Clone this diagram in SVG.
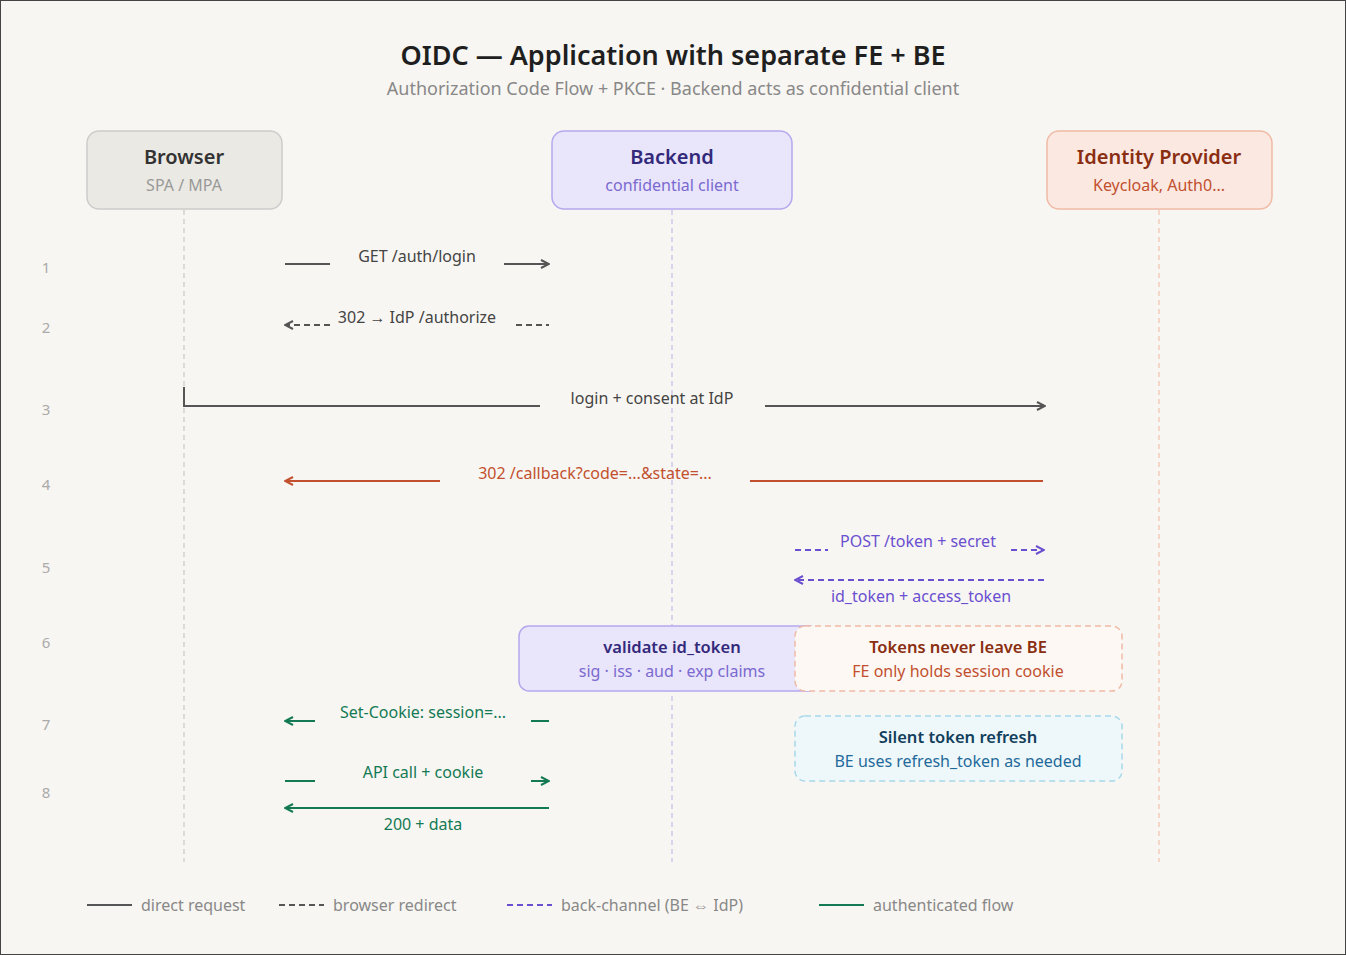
<svg xmlns="http://www.w3.org/2000/svg" width="1346" height="955" viewBox="0 0 1346 955">
<defs>
<style>
text{font-family:"Noto Sans","Open Sans",sans-serif}
.t{font-size:16px;text-anchor:middle}
.n{font-size:15px;fill:#aaa;text-anchor:middle}
.life{stroke-width:1.3;stroke-dasharray:5 4;fill:none}
.d{stroke:#555;stroke-width:2;fill:none}
.r{stroke:#555;stroke-width:2;stroke-dasharray:6 4;fill:none}
.b{stroke:#6a4fd0;stroke-width:2;stroke-dasharray:6 4;fill:none}
.o{stroke:#c2502f;stroke-width:2;fill:none}
.g{stroke:#137a55;stroke-width:2;fill:none}
</style>
<marker id="ad" viewBox="0 0 10 10" refX="9" refY="5" markerWidth="10" markerHeight="10" markerUnits="userSpaceOnUse" orient="auto-start-reverse"><path d="M1 1L9 5L1 9" fill="none" stroke="#555" stroke-width="2"/></marker>
<marker id="ab" viewBox="0 0 10 10" refX="9" refY="5" markerWidth="10" markerHeight="10" markerUnits="userSpaceOnUse" orient="auto-start-reverse"><path d="M1 1L9 5L1 9" fill="none" stroke="#6a4fd0" stroke-width="2"/></marker>
<marker id="ao" viewBox="0 0 10 10" refX="9" refY="5" markerWidth="10" markerHeight="10" markerUnits="userSpaceOnUse" orient="auto-start-reverse"><path d="M1 1L9 5L1 9" fill="none" stroke="#c2502f" stroke-width="2"/></marker>
<marker id="ag" viewBox="0 0 10 10" refX="9" refY="5" markerWidth="10" markerHeight="10" markerUnits="userSpaceOnUse" orient="auto-start-reverse"><path d="M1 1L9 5L1 9" fill="none" stroke="#137a55" stroke-width="2"/></marker>
</defs>
<rect x="0.5" y="0.5" width="1345" height="954" fill="#f8f6f2" stroke="#444"/>
<text x="673" y="65" font-size="27" font-weight="600" text-anchor="middle" fill="#1f1f1f">OIDC — Application with separate FE + BE</text>
<text x="673" y="95" font-size="18" text-anchor="middle" fill="#888">Authorization Code Flow + PKCE · Backend acts as confidential client</text>

<g id="lifelines">
<line x1="184" y1="210" x2="184" y2="862" class="life" stroke="#ccc"/>
<line x1="672" y1="210" x2="672" y2="862" class="life" stroke="#c8c0ec"/>
<line x1="1159" y1="210" x2="1159" y2="862" class="life" stroke="#f0c6b0"/>
</g>
<g id="browser"><rect x="87" y="131" width="195" height="78" rx="12" fill="#ebe9e3" stroke="#ccc" stroke-width="1.5"/>
<text x="184" y="164" font-size="20" font-weight="600" text-anchor="middle" fill="#333">Browser</text>
<text x="184" y="191" font-size="16" text-anchor="middle" fill="#999">SPA / MPA</text></g>
<g id="backend"><rect x="552" y="131" width="240" height="78" rx="12" fill="#e9e5fb" stroke="#b5a8ee" stroke-width="1.5"/>
<text x="672" y="164" font-size="20" font-weight="600" text-anchor="middle" fill="#33297a">Backend</text>
<text x="672" y="191" font-size="16" text-anchor="middle" fill="#7b6ad0">confidential client</text></g>
<g id="idp"><rect x="1047" y="131" width="225" height="78" rx="12" fill="#fbe8e1" stroke="#efbba6" stroke-width="1.5"/>
<text x="1159" y="164" font-size="20" font-weight="600" text-anchor="middle" fill="#8a2e12">Identity Provider</text>
<text x="1159" y="191" font-size="16" text-anchor="middle" fill="#c2502f">Keycloak, Auth0...</text></g>

<g id="steps">
<text x="46" y="273" class="n">1</text><text x="46" y="333" class="n">2</text><text x="46" y="415" class="n">3</text><text x="46" y="490" class="n">4</text>
<text x="46" y="573" class="n">5</text><text x="46" y="648" class="n">6</text><text x="46" y="730" class="n">7</text><text x="46" y="798" class="n">8</text>
</g>

<g id="connectors">
<line x1="285" y1="264" x2="330" y2="264" class="d"/><line x1="504" y1="264" x2="549" y2="264" class="d" marker-end="url(#ad)"/>
<text x="417" y="262" class="t" fill="#444">GET /auth/login</text>
<line x1="330" y1="325" x2="285" y2="325" class="r" marker-end="url(#ad)"/><line x1="516" y1="325" x2="549" y2="325" class="r"/>
<text x="417" y="323" class="t" fill="#444">302 → IdP /authorize</text>
<path d="M184 387V406H540" class="d"/><line x1="765" y1="406" x2="1045" y2="406" class="d" marker-end="url(#ad)"/>
<text x="652" y="404" class="t" fill="#444">login + consent at IdP</text>
<line x1="440" y1="481" x2="285" y2="481" class="o" marker-end="url(#ao)"/><line x1="750" y1="481" x2="1043" y2="481" class="o"/>
<text x="595" y="479" class="t" fill="#c2502f">302 /callback?code=...&amp;state=...</text>
<line x1="795" y1="550" x2="828" y2="550" class="b"/><line x1="1011" y1="550" x2="1044" y2="550" class="b" marker-end="url(#ab)"/>
<text x="918" y="547" class="t" fill="#6a4fd0">POST /token + secret</text>
<line x1="1044" y1="580" x2="795" y2="580" class="b" marker-end="url(#ab)"/>
<text x="921" y="602" class="t" fill="#6a4fd0">id_token + access_token</text>
<line x1="315" y1="721" x2="285" y2="721" class="g" marker-end="url(#ag)"/><line x1="531" y1="721" x2="549" y2="721" class="g"/>
<text x="423" y="718" class="t" fill="#137a55">Set-Cookie: session=...</text>
<line x1="285" y1="781" x2="315" y2="781" class="g"/><line x1="531" y1="781" x2="549" y2="781" class="g" marker-end="url(#ag)"/>
<text x="423" y="778" class="t" fill="#137a55">API call + cookie</text>
<line x1="549" y1="808" x2="285" y2="808" class="g" marker-end="url(#ag)"/>
<text x="423" y="830" class="t" fill="#137a55">200 + data</text>
</g>

<g id="validate"><rect x="519" y="626" width="300" height="65" rx="10" fill="#e9e5fb" stroke="#b5a8ee" stroke-width="1.5"/>
<text x="672" y="653" font-size="16.5" font-weight="600" text-anchor="middle" fill="#33297a">validate id_token</text>
<text x="672" y="677" class="t" fill="#7b6ad0">sig · iss · aud · exp claims</text></g>
<g id="never"><rect x="795" y="626" width="327" height="65" rx="10" fill="#fdf8f4" stroke="#efbba6" stroke-width="1.5" stroke-dasharray="6 4"/>
<text x="958" y="653" font-size="16.5" font-weight="600" text-anchor="middle" fill="#8a2e12">Tokens never leave BE</text>
<text x="958" y="677" class="t" fill="#c2502f">FE only holds session cookie</text></g>
<g id="refresh"><rect x="795" y="716" width="327" height="65" rx="10" fill="#eef8fb" stroke="#a8d8ea" stroke-width="1.5" stroke-dasharray="6 4"/>
<text x="958" y="743" font-size="16.5" font-weight="600" text-anchor="middle" fill="#123f5c">Silent token refresh</text>
<text x="958" y="767" class="t" fill="#1f6a9a">BE uses refresh_token as needed</text></g>

<g id="legend">
<line x1="87" y1="905" x2="132" y2="905" class="d"/><text x="141" y="911" font-size="16" fill="#888">direct request</text>
<line x1="279" y1="905" x2="324" y2="905" class="r"/><text x="333" y="911" font-size="16" fill="#888">browser redirect</text>
<line x1="507" y1="905" x2="552" y2="905" class="b"/><text x="561" y="911" font-size="16" fill="#888">back-channel (BE ⇔ IdP)</text>
<line x1="819" y1="905" x2="864" y2="905" class="g"/><text x="873" y="911" font-size="16" fill="#888">authenticated flow</text>
</g>
</svg>
